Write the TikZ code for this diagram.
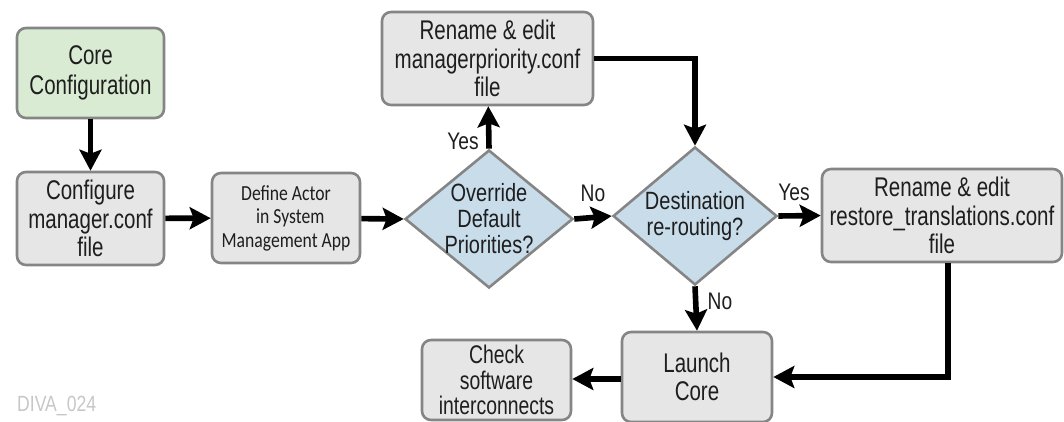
\documentclass[tikz,border=0pt]{standalone}
\usepackage{fontspec}
\setmainfont{Liberation Sans}
\newfontfamily\narrowfont[FakeStretch=0.76]{Liberation Sans}
\newfontfamily\diafont[FakeStretch=0.8]{Liberation Sans}
\newfontfamily\calfont[FakeStretch=0.82]{Carlito}
\usetikzlibrary{shapes.geometric,arrows.meta}
\definecolor{boxgray}{HTML}{E6E6E6}
\definecolor{boxgreen}{HTML}{D9ECD3}
\definecolor{diablue}{HTML}{C8DCEA}
\definecolor{edgegray}{HTML}{858585}
\definecolor{txtc}{HTML}{1E1E1E}
\tikzset{
  box/.style={draw=edgegray, line width=2.6pt, rounded corners=9pt, fill=boxgray, align=center,
    text=txtc, font=\narrowfont\fontsize{27}{28.5}\selectfont, inner sep=0pt},
  dia/.style={draw=edgegray, line width=2.6pt, shape=diamond, fill=diablue, inner sep=0pt,
    minimum width=168pt, minimum height=138pt},
  diatext/.style={align=center, text=txtc, font=\diafont\fontsize{25}{26}\selectfont},
  lbl/.style={text=txtc, font=\diafont\fontsize{24}{26}\selectfont, inner sep=0pt},
  arr/.style={line width=5.6pt, -{Stealth[length=21pt,width=22pt,inset=4pt]}},
}
\begin{document}
\begin{tikzpicture}[x=1pt,y=-1pt]
\useasboundingbox (0,0) rectangle (1064,422);

\node[box, fill=boxgreen, minimum width=147pt, minimum height=90pt, font=\narrowfont\fontsize{27}{30}\selectfont] (core) at (90.5,73) {Core\\Configuration};
\node[box, minimum width=147pt, minimum height=93pt] (config) at (90.5,218.5) {Configure\\manager.conf\\file};
\node[box, minimum width=148pt, minimum height=90pt, font=\calfont\fontsize{21.5}{23.5}\selectfont] (define) at (286,218) {Define Actor\\\hspace*{0.4em}in System\\Management App};
\node[dia] (ov) at (489,219) {};
\node[diatext] (ovt) at (ov) {Override\\Default\\Priorities?};
\node[dia, minimum width=164pt] (dest) at (695,216) {};
\node[diatext] (destt) at (dest) {Destination\\re-routing?};
\node[box, minimum width=211pt, minimum height=93pt] (mgr) at (487.5,58.5) {Rename \& edit\\managerpriority.conf\\file};
\node[box, minimum width=240pt, minimum height=93pt] (restore) at (942,215.5) {Rename \& edit\\restore\_translations.conf\\file};
\node[box, minimum width=150pt, minimum height=90pt] (launch) at (697,377) {Launch\\Core};
\node[box, minimum width=149pt, minimum height=80pt, font=\narrowfont\fontsize{25.5}{25.5}\selectfont] (check) at (496.5,380) {Check\\software\\interconnects};

\node[lbl] (yes1) at (463,141) {Yes};
\node[lbl] (no1) at (593,193) {No};
\node[lbl] (yes2) at (794,192) {Yes};
\node[lbl] (no2) at (720,301) {No};
\node[text=black!22, font=\diafont\fontsize{22}{24}\selectfont, anchor=west, inner sep=0pt] (diva) at (17,406) {DIVA\_024};

\draw[arr] (core) -- (config);
\draw[arr] (config) -- (define);
\draw[arr] (define) -- (ov.west);
\draw[arr] (ov.north) -- (mgr);
\draw[arr] (ov.east) -- (dest.west);
\draw[arr] (mgr.east) -| (dest.north);
\draw[arr] (dest.east) -- (restore.west);
\draw[arr] (dest.south) -- (launch.north);
\draw[arr] ([xshift=6pt]restore.south) |- (launch.east);
\draw[arr] ([yshift=-2pt]launch.west) -- ([yshift=-2pt]launch.west -| check.east);
\end{tikzpicture}
\end{document}
